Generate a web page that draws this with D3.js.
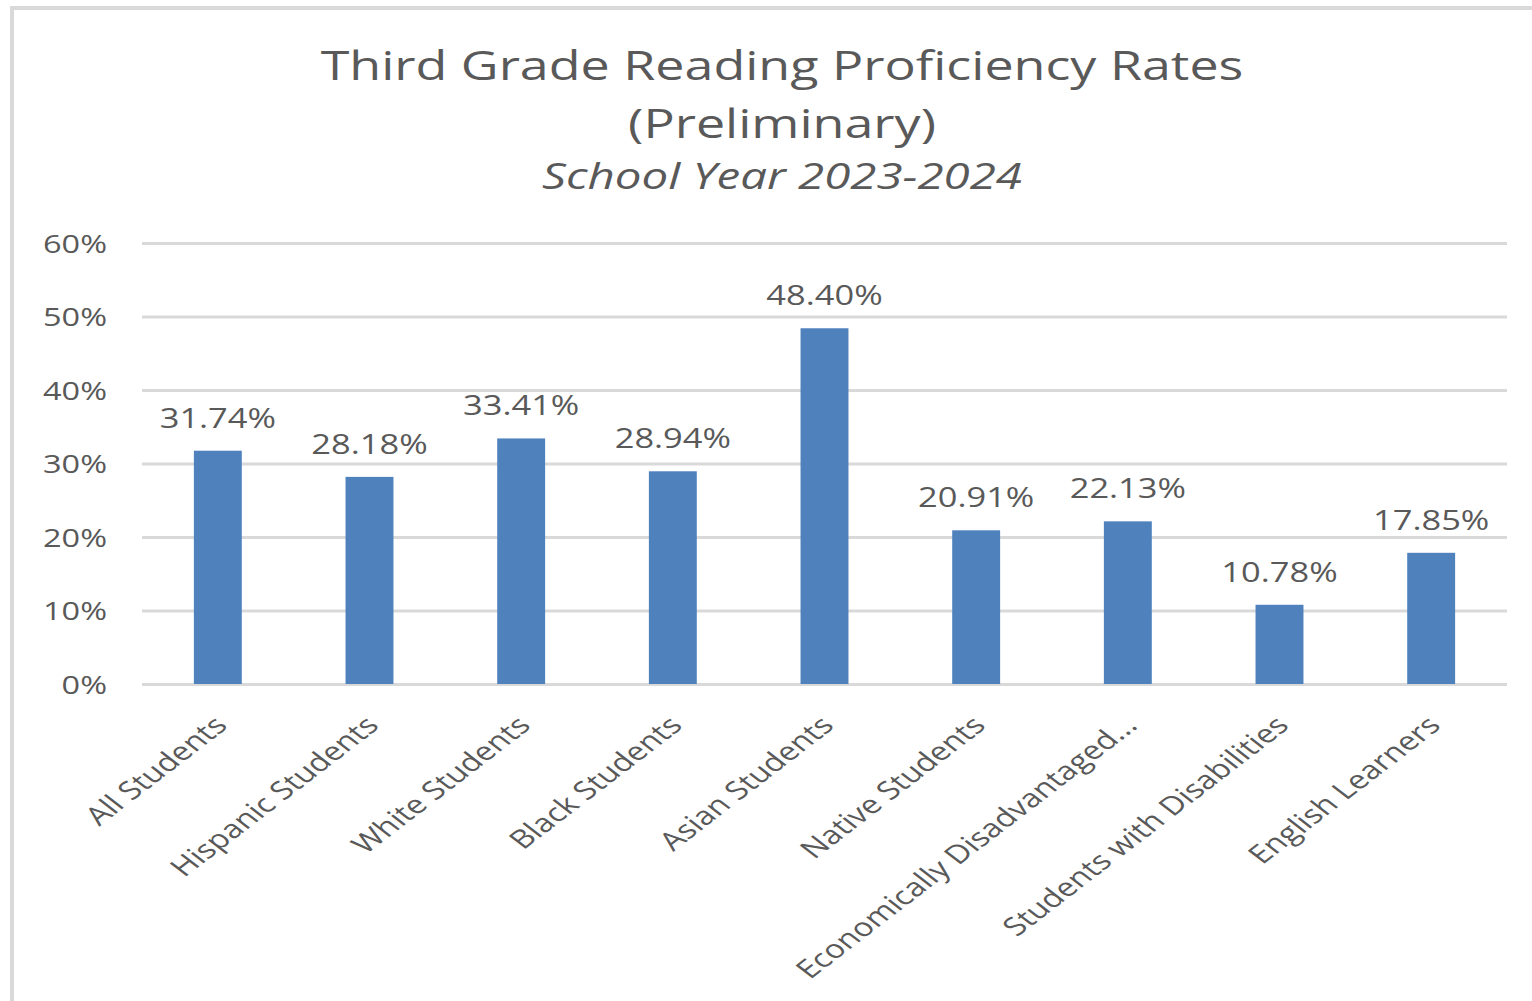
<!DOCTYPE html>
<html>
<head>
<meta charset="utf-8">
<script src="https://cdn.jsdelivr.net/npm/d3@7"></script>
<style>
  html, body { margin: 0; padding: 0; background: #fff; }
  svg { display: block; }
  text { font-family: "Open Sans", "Noto Sans", sans-serif; fill: #595959; }
</style>
</head>
<body>
<svg width="1532" height="1001"></svg>
<script>
const categories = [
  'All Students', 'Hispanic Students', 'White Students', 'Black Students',
  'Asian Students', 'Native Students', 'Economically Disadvantaged...',
  'Students with Disabilities', 'English Learners'
];
const rates = [31.74, 28.18, 33.41, 28.94, 48.40, 20.91, 22.13, 10.78, 17.85];
const yTicks = [0, 10, 20, 30, 40, 50, 60];
const titleLines = ['Third Grade Reading Proficiency Rates', '(Preliminary)'];
const subtitle = 'School Year 2023-2024';

// the reference looks horizontally stretched, so text gets the same stretch
const SX = 1.3;
const plotLeft = 142, plotRight = 1507, plotTop = 243, plotBottom = 684;

const svg = d3.select('svg');

// outer frame (runs off the right and bottom edges)
svg.append('rect')
  .attr('x', 12).attr('y', 8)
  .attr('width', 1600).attr('height', 1100)
  .attr('fill', 'none')
  .attr('stroke', '#d9d9d9')
  .attr('stroke-width', 4);

const x = d3.scaleBand()
  .domain(categories)
  .range([plotLeft, plotRight])
  .paddingInner(0.684)
  .paddingOuter(0.342);

const y = d3.scaleLinear()
  .domain([0, 60])
  .range([plotBottom, plotTop]);

// gridlines + tick labels
const yAxis = svg.append('g')
  .attr('transform', `translate(${plotLeft},0)`)
  .call(d3.axisLeft(y)
    .tickValues(yTicks)
    .tickFormat(d => d + '%')
    .tickSizeInner(-(plotRight - plotLeft))
    .tickSizeOuter(0));
yAxis.select('.domain').remove();
yAxis.selectAll('.tick line')
  .attr('stroke', '#d9d9d9')
  .attr('stroke-width', 3);
yAxis.selectAll('.tick text')
  .attr('x', 0)
  .attr('dy', '0.36em')
  .attr('text-anchor', 'end')
  .attr('transform', `translate(-35,0) scale(${SX},1)`)
  .style('font-size', '25px')
  .attr('fill', '#595959');

// bars
svg.append('g')
  .selectAll('rect')
  .data(rates)
  .join('rect')
  .attr('x', (d, i) => x(categories[i]))
  .attr('y', d => y(d))
  .attr('width', x.bandwidth())
  .attr('height', d => y(0) - y(d))
  .attr('fill', '#4f81bd');

// value labels
svg.append('g')
  .selectAll('text')
  .data(rates)
  .join('text')
  .attr('text-anchor', 'middle')
  .attr('transform', (d, i) =>
    `translate(${x(categories[i]) + x.bandwidth() / 2},${y(d) - 23}) scale(${SX},1)`)
  .style('font-size', '26.5px')
  .text(d => d.toFixed(2) + '%');

// category axis
const xAxis = svg.append('g')
  .attr('transform', `translate(0,${plotBottom})`)
  .call(d3.axisBottom(x).tickSize(0));
xAxis.select('.domain').remove();
xAxis.selectAll('.tick text')
  .attr('x', 0).attr('y', 0).attr('dy', 0)
  .attr('text-anchor', 'end')
  .attr('transform', `translate(11,43) scale(${SX},1) rotate(-45)`)
  .style('font-size', '25.5px')
  .attr('fill', '#595959');

// titles
const cx = 782;
svg.append('g')
  .selectAll('text')
  .data(titleLines)
  .join('text')
  .attr('text-anchor', 'middle')
  .attr('transform', (d, i) => `translate(${cx},${80 + i * 58}) scale(${SX},1)`)
  .style('font-size', '40px')
  .text(d => d);

svg.append('text')
  .attr('text-anchor', 'middle')
  .attr('transform', `translate(${cx},189) scale(${SX},1)`)
  .style('font-size', '36.5px')
  .style('font-style', 'italic')
  .text(subtitle);
</script>
</body>
</html>
